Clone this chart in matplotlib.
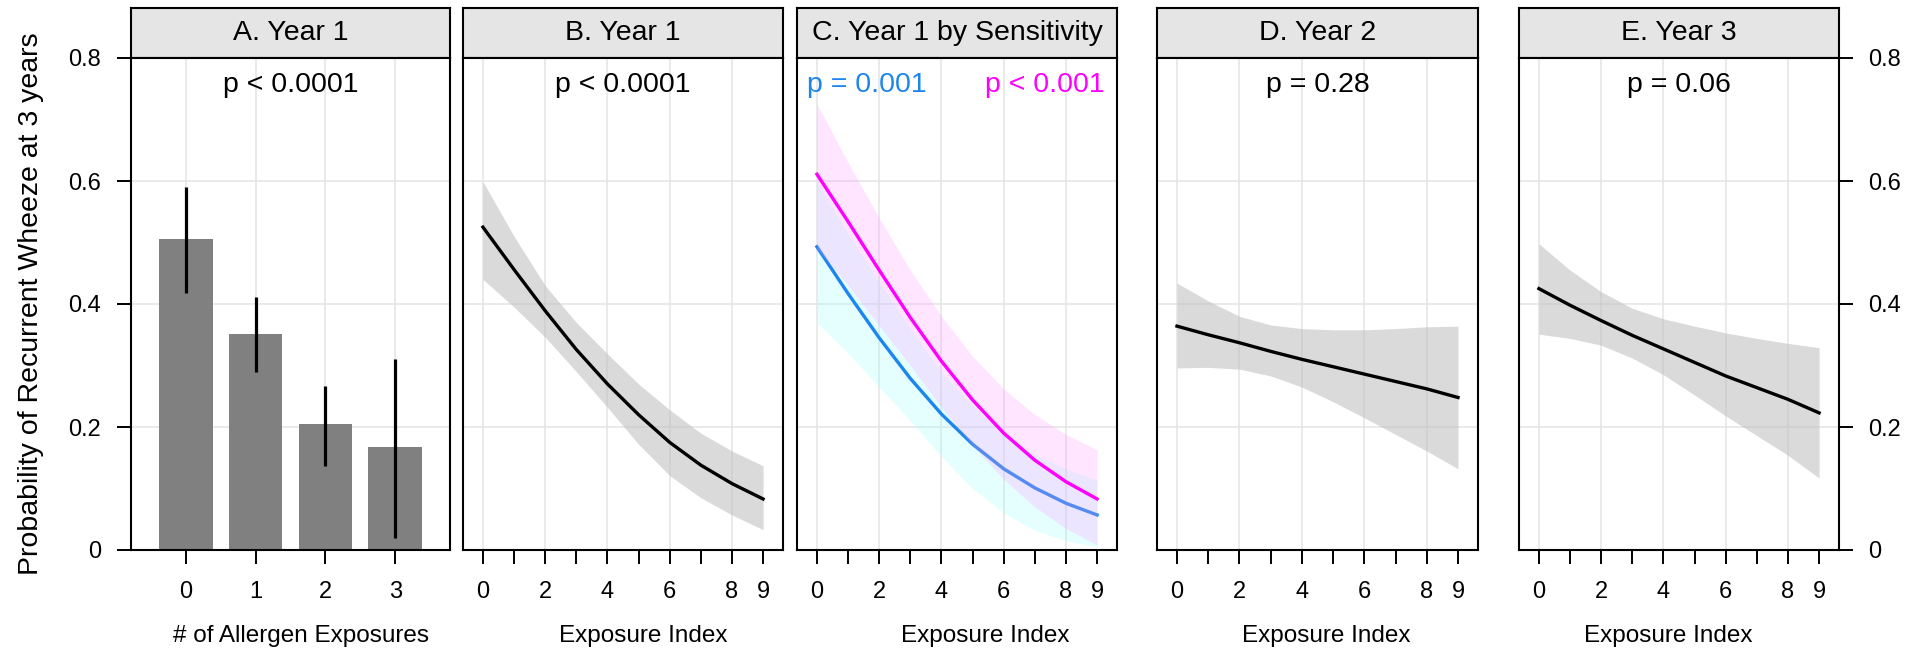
from __future__ import annotations

import matplotlib

matplotlib.use("Agg")
import matplotlib.pyplot as plt


plt.rcParams["font.family"] = ["Liberation Sans", "DejaVu Sans"]

FIG_W, FIG_H, DPI = 1907, 648, 100

# panel A: probability by number of allergen exposures (year 1)
ALLERGEN_COUNTS = [0, 1, 2, 3]
BAR_PROB = [0.506, 0.351, 0.205, 0.168]
BAR_LOW = [0.418, 0.290, 0.137, 0.020]
BAR_HIGH = [0.590, 0.411, 0.267, 0.310]

EXPOSURE_INDEX = [0, 1, 2, 3, 4, 5, 6, 7, 8, 9]

# panel B: year 1
YEAR1_FIT = [0.525, 0.456, 0.389, 0.326, 0.270, 0.220, 0.175, 0.138, 0.108, 0.083]
YEAR1_HIGH = [0.599, 0.510, 0.430, 0.370, 0.319, 0.270, 0.228, 0.190, 0.161, 0.137]
YEAR1_LOW = [0.440, 0.395, 0.346, 0.290, 0.232, 0.172, 0.121, 0.085, 0.057, 0.033]

# panel C: year 1 split by sensitivity
SENS_BLUE_FIT = [0.493, 0.417, 0.345, 0.279, 0.221, 0.172, 0.132, 0.101, 0.076, 0.057]
SENS_BLUE_HIGH = [0.600, 0.515, 0.435, 0.360, 0.290, 0.235, 0.190, 0.155, 0.132, 0.114]
SENS_BLUE_LOW = [0.370, 0.320, 0.265, 0.210, 0.152, 0.100, 0.060, 0.032, 0.015, 0.005]
SENS_PINK_FIT = [0.611, 0.534, 0.455, 0.378, 0.307, 0.244, 0.190, 0.146, 0.111, 0.083]
SENS_PINK_HIGH = [0.725, 0.630, 0.540, 0.455, 0.380, 0.315, 0.262, 0.220, 0.188, 0.163]
SENS_PINK_LOW = [0.490, 0.430, 0.365, 0.300, 0.232, 0.170, 0.115, 0.070, 0.035, 0.008]

# panel D: year 2
YEAR2_FIT = [0.364, 0.350, 0.337, 0.323, 0.310, 0.298, 0.286, 0.274, 0.262, 0.248]
YEAR2_HIGH = [0.434, 0.405, 0.380, 0.366, 0.360, 0.358, 0.358, 0.360, 0.363, 0.364]
YEAR2_LOW = [0.296, 0.297, 0.294, 0.283, 0.265, 0.241, 0.215, 0.188, 0.161, 0.132]

# panel E: year 3
YEAR3_FIT = [0.425, 0.398, 0.373, 0.349, 0.327, 0.305, 0.283, 0.264, 0.245, 0.223]
YEAR3_HIGH = [0.498, 0.455, 0.420, 0.393, 0.376, 0.364, 0.353, 0.344, 0.336, 0.329]
YEAR3_LOW = [0.351, 0.344, 0.333, 0.312, 0.285, 0.252, 0.218, 0.186, 0.154, 0.117]

Y_TICKS = [0, 0.2, 0.4, 0.6, 0.8]
Y_TICK_LABELS = ["0", "0.2", "0.4", "0.6", "0.8"]
INDEX_TICK_LABELS = ["0", "", "2", "", "4", "", "6", "", "8", "9"]

# layout in pixels: (left, right) of each panel, plot area top/bottom, strip top
PANEL_X = [(131, 450), (463, 783), (797, 1117), (1157, 1478), (1519, 1839)]
PLOT_TOP, PLOT_BOTTOM, STRIP_TOP = 58, 550, 8
# x-axis titles are not quite centred under their panels in the original
XLABEL_X = [0.533, 0.5625, 0.5875, 0.5265, 0.466]

STRIP_COLOR = "#e5e5e5"
GRID_COLOR = "#e6e6e6"
BAND_GRAY = "#bdbdbd"
BLUE = "#1c86ee"
PINK = "#ff00ff"
FRAME_LW = 1.5
TICK_PAD = 12
LABEL_PAD = 16


def px_box(left: float, right: float, top: float, bottom: float) -> list[float]:
    return [left / FIG_W, 1 - bottom / FIG_H, (right - left) / FIG_W, (bottom - top) / FIG_H]


def add_panel(fig, idx: int, title: str):
    left, right = PANEL_X[idx]
    strip = fig.add_axes(px_box(left, right, STRIP_TOP, PLOT_TOP))
    strip.set_facecolor(STRIP_COLOR)
    strip.set_xticks([])
    strip.set_yticks([])
    for sp in strip.spines.values():
        sp.set_linewidth(FRAME_LW)
    strip.text(0.5, 0.5, title, ha="center", va="center", fontsize=20.5,
               transform=strip.transAxes)

    ax = fig.add_axes(px_box(left, right, PLOT_TOP, PLOT_BOTTOM))
    for sp in ax.spines.values():
        sp.set_linewidth(FRAME_LW)
    ax.set_ylim(0, 0.8)
    ax.set_yticks(Y_TICKS)
    ax.tick_params(axis="both", direction="out", length=10, width=1.4,
                   labelsize=17, pad=TICK_PAD)
    ax.tick_params(axis="y", left=False, labelleft=False, pad=11.5)
    for y in Y_TICKS[1:-1]:
        ax.axhline(y, color=GRID_COLOR, linewidth=1.2, zorder=0)
    return ax


def set_xlabel(ax, idx: int, text: str) -> None:
    ax.set_xlabel(text, fontsize=17.5, labelpad=LABEL_PAD)
    ax.xaxis.label.set_x(XLABEL_X[idx])


def index_axis(ax, idx: int) -> None:
    for x in [0, 2, 4, 6, 8]:
        ax.axvline(x, color=GRID_COLOR, linewidth=1.2, zorder=0)
    ax.set_xlim(-0.64, 9.64)
    ax.set_xticks(EXPOSURE_INDEX)
    ax.set_xticklabels(INDEX_TICK_LABELS)
    set_xlabel(ax, idx, "Exposure Index")


def gray_panel(ax, idx, fit, low, high, p_text):
    index_axis(ax, idx)
    ax.fill_between(EXPOSURE_INDEX, low, high, color=BAND_GRAY, alpha=0.55,
                    linewidth=0, zorder=1)
    ax.plot(EXPOSURE_INDEX, fit, color="black", linewidth=2.4, zorder=3)
    ax.text(0.5, 0.945, p_text, ha="center", va="center", fontsize=20.5,
            transform=ax.transAxes)


def main() -> None:
    fig = plt.figure(figsize=(FIG_W / DPI, FIG_H / DPI), dpi=DPI)

    # A: bars with intervals
    ax = add_panel(fig, 0, "A. Year 1")
    for x in ALLERGEN_COUNTS:
        ax.axvline(x, color=GRID_COLOR, linewidth=1.2, zorder=0)
    ax.bar(ALLERGEN_COUNTS, BAR_PROB, width=0.77, color="#808080", linewidth=0,
           zorder=2)
    ax.vlines(ALLERGEN_COUNTS, BAR_LOW, BAR_HIGH, color="black", linewidth=2.3,
              zorder=3)
    ax.set_xlim(-0.786, 3.786)
    ax.set_xticks(ALLERGEN_COUNTS)
    ax.set_xticklabels([str(c) for c in ALLERGEN_COUNTS])
    set_xlabel(ax, 0, "# of Allergen Exposures")
    ax.tick_params(axis="y", left=True, labelleft=True)
    ax.set_yticklabels(Y_TICK_LABELS)
    ax.text(0.5, 0.945, "p < 0.0001", ha="center", va="center", fontsize=20.5,
            transform=ax.transAxes)

    # B
    ax = add_panel(fig, 1, "B. Year 1")
    gray_panel(ax, 1, YEAR1_FIT, YEAR1_LOW, YEAR1_HIGH, "p < 0.0001")

    # C: two sensitivity groups, pink band laid over the blue line
    ax = add_panel(fig, 2, "C. Year 1 by Sensitivity")
    index_axis(ax, 2)
    ax.fill_between(EXPOSURE_INDEX, SENS_BLUE_LOW, SENS_BLUE_HIGH, color="#99ffff",
                    alpha=0.25, linewidth=0, zorder=1)
    ax.plot(EXPOSURE_INDEX, SENS_BLUE_FIT, color=BLUE, linewidth=2.4, zorder=2)
    ax.fill_between(EXPOSURE_INDEX, SENS_PINK_LOW, SENS_PINK_HIGH, color="#ff99ff",
                    alpha=0.25, linewidth=0, zorder=3)
    ax.plot(EXPOSURE_INDEX, SENS_PINK_FIT, color=PINK, linewidth=2.4, zorder=4)
    ax.text(0.03, 0.945, "p = 0.001", ha="left", va="center", fontsize=20.5,
            color=BLUE, transform=ax.transAxes)
    ax.text(0.9625, 0.945, "p < 0.001", ha="right", va="center", fontsize=20.5,
            color=PINK, transform=ax.transAxes)

    # D
    ax = add_panel(fig, 3, "D. Year 2")
    gray_panel(ax, 3, YEAR2_FIT, YEAR2_LOW, YEAR2_HIGH, "p = 0.28")

    # E, with the axis on the right
    ax = add_panel(fig, 4, "E. Year 3")
    gray_panel(ax, 4, YEAR3_FIT, YEAR3_LOW, YEAR3_HIGH, "p = 0.06")
    ax.tick_params(axis="y", right=True, labelright=True, pad=11)
    ax.set_yticklabels(Y_TICK_LABELS)

    fig.text(31 / FIG_W, 1 - 304 / FIG_H, "Probability of Recurrent Wheeze at 3 years",
             rotation=90, ha="center", va="center", fontsize=20.5)

    fig.savefig("out.png", dpi=DPI, facecolor="white")
    plt.close(fig)


if __name__ == "__main__":
    main()
